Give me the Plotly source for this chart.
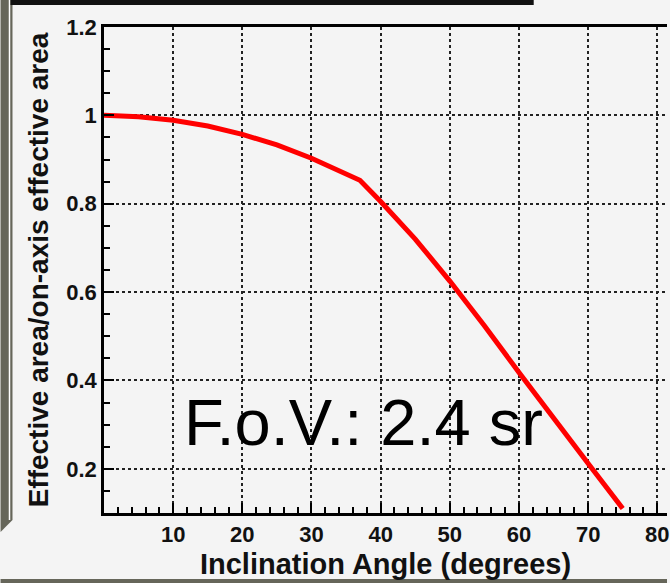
import plotly.graph_objects as go

# Data
angle = [0, 5, 10, 15, 20, 25, 30, 34, 37, 40, 45, 50, 55, 60, 65, 70, 75]
eff_ratio = [1.0, 0.997, 0.989, 0.976, 0.957, 0.933, 0.903, 0.876, 0.853,
             0.805, 0.720, 0.625, 0.524, 0.418, 0.313, 0.212, 0.11]
x_ticks = [10, 20, 30, 40, 50, 60, 70, 80]
y_ticks = [0.2, 0.4, 0.6, 0.8, 1.0, 1.2]
y_labels = ["0.2", "0.4", "0.6", "0.8", "1", "1.2"]
x_minor = [2, 4, 6, 8, 12, 14, 16, 18, 22, 24, 26, 28, 32, 34, 36, 38, 42, 44, 46, 48,
           52, 54, 56, 58, 62, 64, 66, 68, 72, 74, 76, 78]
y_minor = [0.15, 0.25, 0.3, 0.35, 0.45, 0.5, 0.55, 0.65, 0.7, 0.75, 0.85, 0.9, 0.95,
           1.05, 1.1, 1.15]
fov_text = "F.o.V.: 2.4 sr"

W, H = 670, 583
ML, MR, MT, MB = 104, 0, 27, 70
PW, PH = W - ML - MR, H - MT - MB


def px(x):
    return (x - ML) / PW


def py(y):
    return (H - MB - y) / PH


BG = "#f4f4f4"
FONT = "Liberation Sans"

fig = go.Figure()
fig.add_trace(go.Scatter(x=angle, y=eff_ratio, mode="lines",
                         line=dict(color="#ff0000", width=5),
                         showlegend=False, hoverinfo="skip"))

fig.add_annotation(x=11.3, y=0.305, xref="x", yref="y", text=fov_text,
                   showarrow=False, xanchor="left", yanchor="middle",
                   font=dict(family=FONT, size=65, color="#000000"))

# decorative frame elements of the slide
shapes = [
    dict(type="path", xref="paper", yref="paper",
         path=f"M {px(0)},{py(0)} L {px(12)},{py(0)} L {px(12)},{py(520)} L {px(0)},{py(532)} Z",
         fillcolor="#66665a", line=dict(width=0), layer="above"),
    dict(type="line", xref="paper", yref="paper", x0=px(9), x1=px(9), y0=py(0), y1=py(520),
         line=dict(color="#ffffff", width=1.5), layer="above"),
    dict(type="rect", xref="paper", yref="paper", x0=px(10), x1=px(536), y0=py(0), y1=py(5),
         fillcolor="#111111", line=dict(width=0), layer="above"),
    dict(type="rect", xref="paper", yref="paper", x0=px(0), x1=px(670), y0=py(579), y1=py(583),
         fillcolor="#66665a", line=dict(width=0), layer="above"),
]

fig.update_layout(
    width=W, height=H,
    margin=dict(l=ML, r=MR, t=MT, b=MB),
    paper_bgcolor=BG, plot_bgcolor=BG,
    shapes=shapes,
    xaxis=dict(range=[0, 81.4], tickmode="array", tickvals=x_ticks,
               ticktext=[str(v) for v in x_ticks], ticklabeloverflow="allow",
               ticks="inside", ticklen=10, tickwidth=2, tickcolor="#000",
               minor=dict(ticks="inside", ticklen=6, tickwidth=1.5, tickmode="array",
                          tickvals=x_minor, tickcolor="#000", showgrid=False),
               showline=True, linecolor="#000", linewidth=2.5, mirror=True,
               showgrid=True, gridcolor="#222", griddash="dot", gridwidth=1.5,
               zeroline=False,
               tickfont=dict(family=FONT, size=22, color="#111", weight="bold"),
               title=dict(text="Inclination Angle (degrees)", standoff=8,
                          font=dict(family=FONT, size=29, color="#111", weight="bold"))),
    yaxis=dict(range=[0.1, 1.2], tickmode="array", tickvals=y_ticks, ticktext=y_labels,
               ticks="inside", ticklen=10, tickwidth=2, tickcolor="#000",
               minor=dict(ticks="inside", ticklen=6, tickwidth=1.5, tickmode="array",
                          tickvals=y_minor, tickcolor="#000", showgrid=False),
               showline=True, linecolor="#000", linewidth=2.5, mirror=False,
               showgrid=True, gridcolor="#222", griddash="dot", gridwidth=1.5,
               zeroline=False,
               tickfont=dict(family=FONT, size=22, color="#111", weight="bold"),
               title=dict(text="Effective area/on-axis effective area", standoff=10,
                          font=dict(family=FONT, size=28, color="#111", weight="bold"))),
)

fig.write_html("out.html")
